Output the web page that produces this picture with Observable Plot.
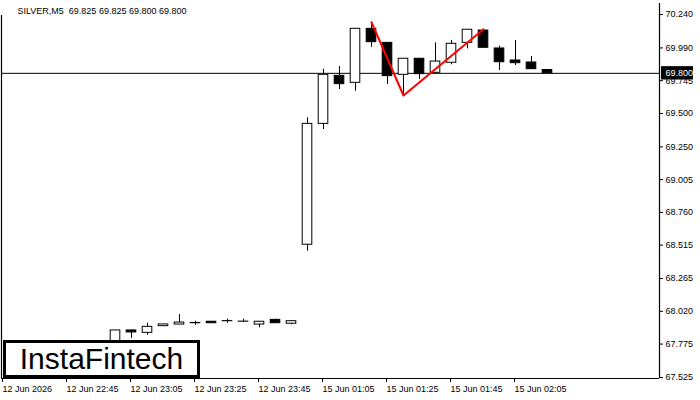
<!DOCTYPE html>
<html>
<head>
<meta charset="utf-8">
<script src="https://cdn.jsdelivr.net/npm/d3@7"></script>
<script src="https://cdn.jsdelivr.net/npm/@observablehq/plot@0.6"></script>
<style>
  html, body { margin: 0; padding: 0; background: #fff; }
  #wrap { position: relative; width: 700px; height: 400px; overflow: hidden; }
  #logo {
    position: absolute; left: 3px; top: 340px; width: 191px; height: 32px;
    border: 3px solid #000; background: #fff;
    display: flex; align-items: center; justify-content: center;
    font-family: "Liberation Sans", Arial, sans-serif; font-size: 30px; color: #000;
    letter-spacing: 0px;
  }
</style>
</head>
<body>
<div id="wrap"><div id="chart"></div><div id="logo">InstaFintech</div></div>
<script>
// ---- data (bar index 0 = 12 Jun 22:25, M5 bars; weekend gap collapsed) ----
const title = "SILVER,M5  69.825 69.825 69.800 69.800";
const barIndex = [7,8,9,10,11,12,13,14,15,16,17,18,19,20,21,22,23,24,25,26,27,28,29,30,31,32,33,34];
const open  = [67.790,67.877,67.859,67.909,67.921,67.931,67.942,67.946,67.942,67.921,67.956,67.927,
               68.518,69.422,69.781,69.729,70.133,70.028,69.789,69.909,69.804,69.879,70.028,70.120,69.986,69.896,69.881,69.825];
const high  = [67.877,67.877,67.931,67.922,67.996,67.946,67.942,67.961,67.961,67.942,67.961,67.950,
               69.467,69.831,69.851,70.133,70.182,70.028,69.909,69.909,70.028,70.046,70.126,70.130,70.003,70.046,69.926,69.825];
const low   = [67.760,67.817,67.841,67.909,67.921,67.916,67.928,67.931,67.942,67.897,67.931,67.920,
               68.470,69.380,69.679,69.666,69.995,69.716,69.634,69.754,69.800,69.864,69.983,69.991,69.821,69.858,69.831,69.800];
const close = [67.877,67.862,67.904,67.922,67.936,67.933,67.931,67.947,67.943,67.942,67.931,67.946,
               69.422,69.789,69.719,70.133,70.033,69.779,69.909,69.794,69.888,70.021,70.126,69.991,69.883,69.876,69.831,69.800];

const xTickIndex = [0,4,8,12,16,20,24,28,32];
const xTickLabels = ["12 Jun 2026","12 Jun 22:45","12 Jun 23:05","12 Jun 23:25","12 Jun 23:45",
                     "15 Jun 01:05","15 Jun 01:25","15 Jun 01:45","15 Jun 02:05"];
const yTicks = [70.240,69.990,69.745,69.500,69.250,69.005,68.760,68.515,68.265,68.020,67.775,67.525];

// pattern line (red) : index, price
const patternX = [23, 25, 30];
const patternY = [70.182, 69.634, 70.130];

const lastPrice = 69.800;

// ---- build ----
const bars = barIndex.map((i, k) => ({i, o: open[k], h: high[k], l: low[k], c: close[k]}));
const pattern = patternX.map((x, k) => ({x, y: patternY[k]}));

const xDomain = [-0.125, 41];
const yDomain = [67.5175, 70.3223];
const half = 0.3;

const chart = Plot.plot({
  width: 700,
  height: 400,
  marginLeft: 1,
  marginRight: 41,
  marginTop: 3,
  marginBottom: 22,
  style: {fontFamily: "'Liberation Sans', Arial, sans-serif", fontSize: "9px", color: "#000", background: "#fff", overflow: "visible"},
  x: {type: "linear", domain: xDomain},
  y: {type: "linear", domain: yDomain},
  marks: [
    // frame: left, bottom, right
    Plot.ruleX([xDomain[0]], {y1: 70.2325, y2: yDomain[0], stroke: "#000", strokeWidth: 1.2}),
    Plot.ruleY([yDomain[0]], {stroke: "#000", strokeWidth: 1.2}),
    Plot.ruleX([xDomain[1]], {stroke: "#000", strokeWidth: 1.2}),
    // current price line
    Plot.ruleY([lastPrice], {stroke: "#000", strokeWidth: 1}),
    // wicks
    Plot.ruleX(bars, {x: "i", y1: "l", y2: "h", stroke: "#000", strokeWidth: 1}),
    // bodies
    Plot.rect(bars, {
      x1: d => d.i - half, x2: d => d.i + half,
      y1: "o", y2: "c",
      fill: d => d.c >= d.o ? "#fff" : "#000",
      stroke: "#000", strokeWidth: 1
    }),
    // red pattern
    Plot.line(pattern, {x: "x", y: "y", stroke: "#f00", strokeWidth: 2}),
    // axes
    Plot.axisX({ticks: xTickIndex, tickFormat: (d, k) => xTickLabels[xTickIndex.indexOf(d)],
                tickSize: 4, tickPadding: 3, textAnchor: "start", dx: -1, fill: "#000", label: null}),
    Plot.axisY({anchor: "right", ticks: yTicks, tickFormat: d3.format(".3f"),
                tickSize: 3, tickPadding: 3, fill: "#000", label: null}),
    // price tag
    Plot.rect([lastPrice], {x1: xDomain[1] + 2/16, x2: xDomain[1] + 34/16,
               y1: d => d - 0.05, y2: d => d + 0.05, fill: "#000"}),
    Plot.text([lastPrice], {x: xDomain[1], y: d => d, dx: 6, text: d => d3.format(".3f")(d),
               textAnchor: "start", fill: "#fff"}),
    // title
    Plot.text([title], {frameAnchor: "top-left", dx: 16, dy: 4, lineAnchor: "top", textAnchor: "start", fill: "#000"})
  ]
});
document.getElementById("chart").appendChild(chart);
</script>
</body>
</html>
